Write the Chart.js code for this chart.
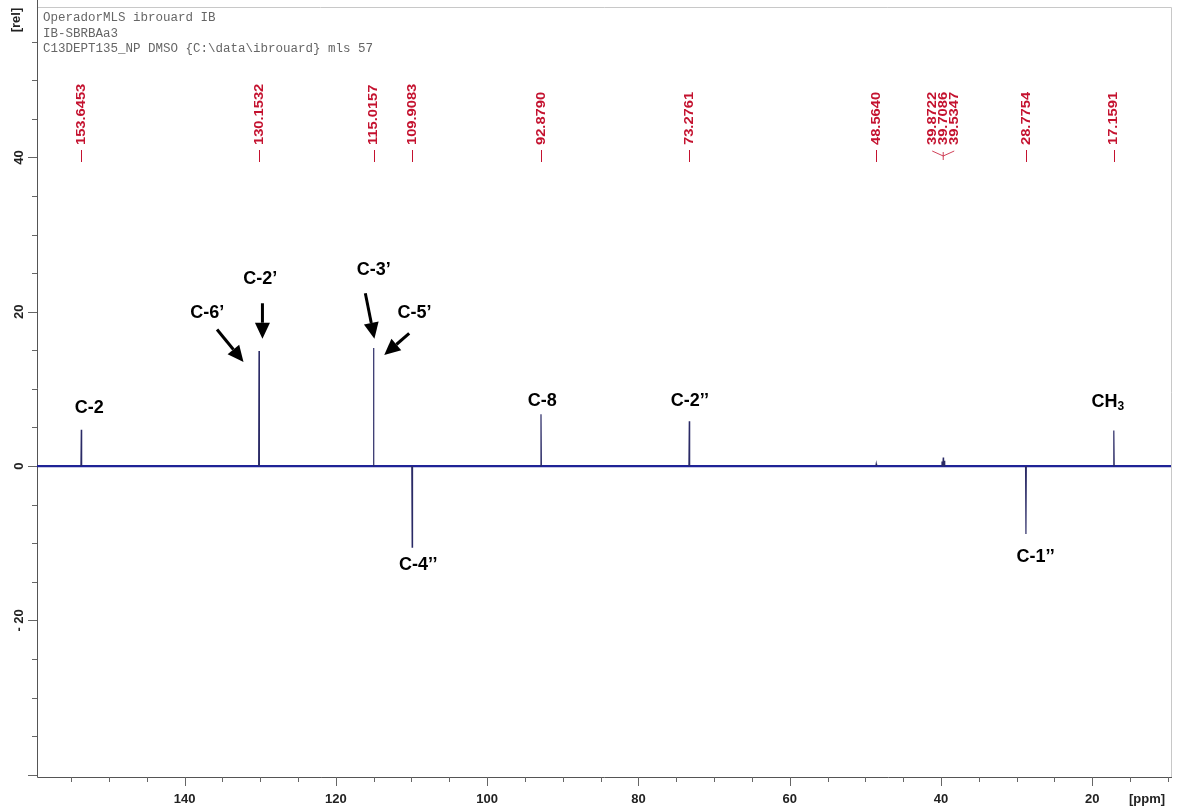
<!DOCTYPE html>
<html>
<head>
<meta charset="utf-8">
<script src="https://cdn.jsdelivr.net/npm/chart.js@4.4.1/dist/chart.umd.min.js"></script>
<style>
  html, body { margin: 0; padding: 0; background: #fff; }
  #wrap { width: 1177px; height: 811px; }
</style>
</head>
<body>
<div id="wrap"><canvas id="nmr" width="1177" height="811"></canvas></div>
<script>
// peak list (ppm) and relative intensities
const peakPpm    = [153.6453, 130.1532, 115.0157, 109.9083, 92.8790, 73.2761, 48.5640, 39.8722, 39.7086, 39.5347, 28.7754, 17.1591];
const peakHeight = [4.7,      14.9,     15.3,     -10.5,    6.7,     5.8,     0.3,     0.6,     1.1,     0.7,     -8.8,    4.6];

// red peak-pick labels printed along the top
const pickLabels = ["153.6453", "130.1532", "115.0157", "109.9083", "92.8790", "73.2761", "48.5640", "39.8722", "39.7086", "39.5347", "28.7754", "17.1591"];

// carbon assignments: text, ppm, rel
const assignText = ["C-2", "C-6\u2019", "C-2\u2019", "C-3\u2019", "C-5\u2019", "C-8", "C-2\u2019\u2019", "CH3", "C-4\u2019\u2019", "C-1\u2019\u2019"];
const assignPpm  = [152.6, 137.0, 130.0, 115.0, 109.6, 92.7, 73.2, 17.2, 109.1, 27.5];
const assignRel  = [7.5, 19.8, 24.2, 25.4, 19.8, 8.4, 8.4, 8.3, -12.8, -11.8];

// arrows: [fromPpm, fromRel, toPpm, toRel]
const arrows = [
  [135.7, 17.7, 132.2, 13.5],
  [129.7, 21.1, 129.7, 16.5],
  [116.1, 22.4, 114.9, 16.5],
  [110.3, 17.2, 113.6, 14.4]
];

const headerLines = [
  "OperadorMLS ibrouard IB",
  "IB-SBRBAa3",
  "C13DEPT135_NP DMSO {C:\\data\\ibrouard} mls 57"
];

const xMin = 9.6, xMax = 159.5;
const yMin = -40.3, yMax = 59.5;
const xMajor = [20, 40, 60, 80, 100, 120, 140];
const yMajor = [-20, 0, 20, 40];

// baseline and peak sticks as two traces
const baseline = [{x: xMax, y: 0}, {x: xMin, y: 0}];
const sticks = [];
peakPpm.forEach((p, i) => {
  sticks.push({x: p + 0.05, y: 0});
  sticks.push({x: p, y: peakHeight[i]});
  sticks.push({x: p - 0.05, y: 0});
  sticks.push({x: NaN, y: NaN});
});

const decor = {
  id: 'decor',
  beforeDatasetsDraw(chart) {
    const {ctx, chartArea: a, scales: {x, y}} = chart;
    ctx.save();
    // frame
    ctx.lineWidth = 1;
    ctx.strokeStyle = '#c8c8c8';
    ctx.beginPath();
    ctx.moveTo(a.left, a.top + 0.5); ctx.lineTo(a.right + 0.5, a.top + 0.5); ctx.lineTo(a.right + 0.5, a.bottom);
    ctx.stroke();
    ctx.strokeStyle = '#555';
    ctx.beginPath();
    ctx.moveTo(a.left + 0.5, 0); ctx.lineTo(a.left + 0.5, a.bottom + 0.5); ctx.lineTo(a.right + 1, a.bottom + 0.5);
    ctx.stroke();

    // x ticks every 5 ppm
    ctx.strokeStyle = '#666';
    for (let v = 10; v <= 155; v += 5) {
      const px = Math.round(x.getPixelForValue(v)) + 0.5;
      const len = v % 20 === 0 ? 9 : 5;
      ctx.beginPath(); ctx.moveTo(px, a.bottom); ctx.lineTo(px, a.bottom + len); ctx.stroke();
    }
    // y ticks every 5
    for (let v = -40; v <= 55; v += 5) {
      const py = Math.round(y.getPixelForValue(v)) + 0.5;
      const len = v % 20 === 0 ? 9 : 5;
      ctx.beginPath(); ctx.moveTo(a.left, py); ctx.lineTo(a.left - len, py); ctx.stroke();
    }

    // tick labels
    ctx.fillStyle = '#222';
    ctx.font = 'bold 13px "Liberation Sans", Arial, sans-serif';
    ctx.textAlign = 'center';
    ctx.textBaseline = 'middle';
    xMajor.forEach(v => ctx.fillText(String(v), x.getPixelForValue(v), a.bottom + 22));
    ctx.fillText('[ppm]', 1147, a.bottom + 22);
    yMajor.forEach(v => {
      ctx.save();
      ctx.translate(19, y.getPixelForValue(v));
      ctx.rotate(-Math.PI / 2);
      ctx.fillText(v < 0 ? '- ' + Math.abs(v) : String(v), 0, 0);
      ctx.restore();
    });
    ctx.save();
    ctx.translate(16, 20);
    ctx.rotate(-Math.PI / 2);
    ctx.fillText('[rel]', 0, 0);
    ctx.restore();

    // header block
    ctx.fillStyle = '#666';
    ctx.font = '12.5px "Liberation Mono", "Courier New", monospace';
    ctx.textAlign = 'left';
    headerLines.forEach((t, i) => ctx.fillText(t, 43, 18 + i * 15.5));

    // red peak picks
    ctx.fillStyle = '#c4122f';
    ctx.strokeStyle = '#c4122f';
    ctx.font = 'bold 13px "Liberation Sans", Arial, sans-serif';
    const cluster = [7, 8, 9];
    const clusterX = x.getPixelForValue(39.7086);
    pickLabels.forEach((t, i) => {
      let px = x.getPixelForValue(peakPpm[i]);
      const ci = cluster.indexOf(i);
      if (ci >= 0) px = clusterX + (ci - 1) * 11;
      ctx.save();
      ctx.translate(px, 145);
      ctx.rotate(-Math.PI / 2);
      ctx.scale(1.13, 1);
      ctx.textAlign = 'left';
      ctx.fillText(t, 0, 0);
      ctx.restore();
      if (ci < 0) {
        ctx.lineWidth = 1;
        ctx.beginPath(); ctx.moveTo(Math.round(px) + 0.5, 150); ctx.lineTo(Math.round(px) + 0.5, 162); ctx.stroke();
      }
    });
    // bracket for the DMSO multiplet
    ctx.lineWidth = 0.8;
    ctx.beginPath();
    ctx.moveTo(clusterX - 11, 151); ctx.lineTo(clusterX, 156); ctx.lineTo(clusterX + 11, 151);
    ctx.moveTo(clusterX, 152); ctx.lineTo(clusterX, 160);
    ctx.stroke();
    ctx.restore();
  },
  afterDatasetsDraw(chart) {
    const {ctx, scales: {x, y}} = chart;
    ctx.save();
    ctx.fillStyle = '#000';
    ctx.font = 'bold 18px "Liberation Sans", Arial, sans-serif';
    ctx.textAlign = 'center';
    ctx.textBaseline = 'middle';
    assignText.forEach((t, i) => {
      const px = x.getPixelForValue(assignPpm[i]);
      const py = y.getPixelForValue(assignRel[i]);
      if (t === 'CH3') {
        ctx.textAlign = 'right';
        ctx.fillText('CH', px + 4, py);
        ctx.font = 'bold 12px "Liberation Sans", Arial, sans-serif';
        ctx.textAlign = 'left';
        ctx.fillText('3', px + 4, py + 5);
        ctx.font = 'bold 18px "Liberation Sans", Arial, sans-serif';
        ctx.textAlign = 'center';
      } else {
        ctx.fillText(t, px, py);
      }
    });
    ctx.strokeStyle = '#000';
    ctx.lineWidth = 3;
    arrows.forEach(([p0, r0, p1, r1]) => {
      const x0 = x.getPixelForValue(p0), y0 = y.getPixelForValue(r0);
      const x1 = x.getPixelForValue(p1), y1 = y.getPixelForValue(r1);
      const ang = Math.atan2(y1 - y0, x1 - x0);
      const head = 16, half = 7.5;
      const bx = x1 - head * Math.cos(ang), by = y1 - head * Math.sin(ang);
      ctx.beginPath(); ctx.moveTo(x0, y0); ctx.lineTo(bx, by); ctx.stroke();
      ctx.beginPath();
      ctx.moveTo(x1, y1);
      ctx.lineTo(bx + half * Math.sin(ang), by - half * Math.cos(ang));
      ctx.lineTo(bx - half * Math.sin(ang), by + half * Math.cos(ang));
      ctx.closePath();
      ctx.fill();
    });
    ctx.restore();
  }
};

new Chart(document.getElementById('nmr'), {
  type: 'scatter',
  data: {
    datasets: [{
      data: sticks,
      showLine: true,
      spanGaps: false,
      borderColor: '#2a2a66',
      borderWidth: 1.2,
      pointRadius: 0,
      tension: 0
    }, {
      data: baseline,
      showLine: true,
      borderColor: '#1f2396',
      borderWidth: 2.2,
      pointRadius: 0,
      tension: 0
    }]
  },
  options: {
    responsive: false,
    animation: false,
    layout: {padding: {top: 7, right: 6, left: 0, bottom: 0}},
    plugins: {legend: {display: false}, tooltip: {enabled: false}},
    scales: {
      x: {
        type: 'linear', reverse: true, min: xMin, max: xMax,
        grid: {display: false}, border: {display: false},
        ticks: {display: false},
        afterFit: s => { s.height = 34; }
      },
      y: {
        type: 'linear', min: yMin, max: yMax,
        grid: {display: false}, border: {display: false},
        ticks: {display: false},
        afterFit: s => { s.width = 37; }
      }
    }
  },
  plugins: [decor]
});
</script>
</body>
</html>
